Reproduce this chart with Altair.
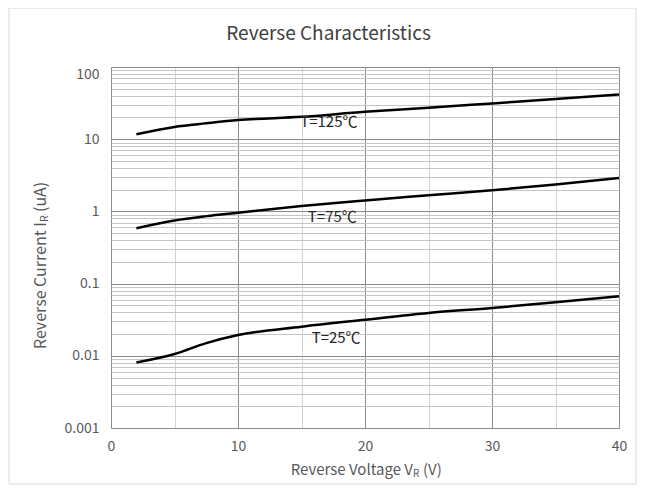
import altair as alt
import pandas as pd

FONT = "Noto Sans CJK SC"

# ---- data ----
voltage = [2, 5, 7.5, 10, 15, 20, 25, 30, 35, 40]
current_125 = [11.7, 14.8, 16.6, 18.4, 20.4, 24.0, 27.2, 31.3, 36.0, 41.7]
current_75 = [0.586, 0.75, 0.86, 0.96, 1.19, 1.42, 1.67, 1.96, 2.35, 2.90]
current_25 = [0.00807, 0.01057, 0.0150, 0.0194, 0.0253, 0.0316, 0.0392, 0.0459, 0.055, 0.0667]
series_names = ["T=125℃", "T=75℃", "T=25℃"]
label_v = [14.9, 15.5, 15.8]
label_i = [17.4, 0.834, 0.0174]

x_ticks = [0, 5, 10, 15, 20, 25, 30, 35, 40]
y_grid = [round(m * 10 ** k, 6) for k in range(-3, 2) for m in range(1, 10)] + [100]

chart_title = ["Reverse Characteristics"]
x_title_parts = ["Reverse Voltage V", "R", "(V)"]
y_title_parts = ["Reverse Current I", "R", "(uA)"]

rows = []
for name, vals in zip(series_names, [current_125, current_75, current_25]):
    for v, c in zip(voltage, vals):
        rows.append({"series": name, "V": v, "I": c})
df = pd.DataFrame(rows)
labels_df = pd.DataFrame({"series": series_names, "V": label_v, "I": label_i})

x_scale = alt.Scale(domain=[0, 40], nice=False)
y_scale = alt.Scale(type="log", domain=[0.001, 100], nice=False)

x_axis = alt.Axis(
    values=x_ticks, title=None, ticks=False, domain=False, grid=True,
    gridColor={"condition": {"test": "datum.value % 10 == 0", "value": "#8c8c8c"}, "value": "#d4d4d4"},
    gridWidth=1,
    labelExpr="datum.value % 10 == 0 ? datum.label : ''",
    labelFont=FONT, labelFontSize=14, labelColor="#595959", labelPadding=11,
    labelFlush=False, labelOverlap=False,
)
decade = "abs(log(datum.value)/LN10 - round(log(datum.value)/LN10)) < 1e-6"
y_axis = alt.Axis(
    values=y_grid, title=None, ticks=False, domain=False, grid=True, format="~g",
    gridColor={"condition": {"test": decade, "value": "#8c8c8c"}, "value": "#c4c4c4"},
    gridWidth=1,
    labelExpr=decade + " ? datum.label : ''",
    labelBaseline={"condition": {"test": "datum.value == 100", "value": "top"}, "value": "middle"},
    labelFont=FONT, labelFontSize=14, labelColor="#595959", labelPadding=12,
    labelFlush=False, labelOverlap=False,
)

lines = alt.Chart(df).mark_line(color="black", strokeWidth=2.5, interpolate="monotone").encode(
    x=alt.X("V:Q", scale=x_scale, axis=x_axis),
    y=alt.Y("I:Q", scale=y_scale, axis=y_axis),
    detail="series:N",
)

curve_labels = alt.Chart(labels_df).mark_text(
    align="left", baseline="middle", font=FONT, fontSize=15, color="#262626"
).encode(
    x=alt.X("V:Q", scale=x_scale),
    y=alt.Y("I:Q", scale=y_scale),
    text="series:N",
)


def txt(s, x, y, size, align="left", baseline="alphabetic", angle=0, dy=0, color="#404040"):
    props = dict(align=align, baseline=baseline, font=FONT, fontSize=size, color=color, dy=dy)
    if angle:
        props["angle"] = angle
    return alt.Chart(pd.DataFrame({"t": [s]})).mark_text(**props).encode(
        x=alt.value(x), y=alt.value(y), text="t:N"
    )


title = txt(chart_title[0], 217.5, -27, 19, align="center", color="#404040")

xt1 = txt(x_title_parts[0], 302, 408, 15, align="right", color="#595959")
xt2 = txt(x_title_parts[1], 302, 408, 10, align="left", dy=2, color="#595959")
xt3 = txt(x_title_parts[2], 312, 408, 15, align="left", color="#595959")

yt1 = txt(y_title_parts[0], -65, 155, 16, align="right", angle=270, color="#595959")
yt2 = txt(y_title_parts[1], -65, 155, 10.5, align="left", angle=270, dy=2, color="#595959")
yt3 = txt(y_title_parts[2], -65, 145, 16, align="left", angle=270, color="#595959")

border = alt.Chart(pd.DataFrame({"t": [0]})).mark_rect(
    fillOpacity=0, stroke="#d9d9d9", strokeWidth=1
).encode(x=alt.value(-102), x2=alt.value(525), y=alt.value(-59), y2=alt.value(417))

chart = alt.layer(
    border, lines, curve_labels, title, xt1, xt2, xt3, yt1, yt2, yt3
).properties(
    width=508, height=361,
    padding={"left": 103, "top": 59, "right": 18, "bottom": 58},
    autosize=alt.AutoSizeParams(type="none"),
).configure_view(stroke="#808080", strokeWidth=1).configure(background="white")

chart.save("out.html", embed_options={"renderer": "svg", "actions": False})
